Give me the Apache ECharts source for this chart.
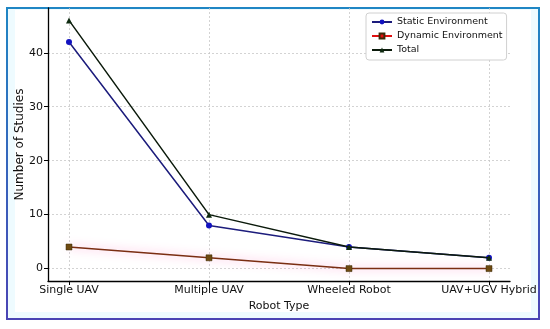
<!DOCTYPE html>
<html>
<head>
<meta charset="utf-8">
<script src="https://cdn.jsdelivr.net/npm/echarts@6/dist/echarts.min.js"></script>
<style>
html,body{margin:0;padding:0;background:#fff;width:550px;height:329px;overflow:hidden;}
#frame{position:absolute;left:6px;top:7px;width:530px;height:309px;border:2px solid;border-image:linear-gradient(#1f86c4,#4a44b4) 1;background:#eefbff;}
#inner{position:absolute;left:15px;top:10px;width:516px;height:302px;background:#fff;}
#chart{position:absolute;left:0;top:0;width:550px;height:329px;}
</style>
</head>
<body>
<div id="frame"></div>
<div id="inner"></div>
<div id="chart"></div>
<script>
const categories = ['Single UAV', 'Multiple UAV', 'Wheeled Robot', 'UAV+UGV Hybrid'];
const staticEnv = [42, 8, 4, 2];
const dynamicEnv = [4, 2, 0, 0];
const totalEnv = [46, 10, 4, 2];
const yTicks = [0, 10, 20, 30, 40];

const toPts = arr => arr.map((v, i) => [i, v]);
const font = 'DejaVu Sans';
const chart = echarts.init(document.getElementById('chart'), null, {renderer: 'canvas'});
chart.setOption({
  backgroundColor: 'transparent',
  animation: false,
  textStyle: {fontFamily: font},
  grid: {left: 48, right: 40, top: 8, bottom: 48, containLabel: false},
  xAxis: {
    type: 'value', min: -0.15, max: 3.15,
    name: 'Robot Type', nameLocation: 'middle', nameGap: 20,
    nameTextStyle: {fontFamily: font, fontSize: 11, color: '#111'},
    axisLine: {show: true, onZero: false, lineStyle: {color: '#000', width: 1.3}},
    axisTick: {show: true, length: 4, customValues: [0, 1, 2, 3], lineStyle: {color: '#000'}},
    axisLabel: {customValues: [0, 1, 2, 3], formatter: v => categories[Math.round(v)], fontFamily: font, fontSize: 11, color: '#111', margin: 4},
    splitLine: {show: true, lineStyle: {color: '#c8c8c8', type: [2, 2], width: 0.8}}
  },
  yAxis: {
    type: 'value', min: -2.3, max: 48.3,
    name: 'Number of Studies', nameLocation: 'middle', nameGap: 22, nameMoveOverlap: false,
    nameTextStyle: {fontFamily: font, fontSize: 12, color: '#111'},
    axisLine: {show: true, onZero: false, lineStyle: {color: '#000', width: 1.3}},
    axisTick: {show: true, length: 4, customValues: yTicks, lineStyle: {color: '#000'}},
    axisLabel: {customValues: yTicks, fontFamily: font, fontSize: 11, color: '#111', margin: 5},
    splitLine: {show: true, lineStyle: {color: '#c8c8c8', type: [2, 2], width: 0.8}}
  },
  legend: {
    orient: 'vertical', left: 366, top: 13, padding: [4, 4, 5, 5], itemGap: 4,
    itemWidth: 20, itemHeight: 6,
    backgroundColor: '#fff', borderColor: '#d0d0d0', borderWidth: 1, borderRadius: 3,
    textStyle: {fontFamily: font, fontSize: 9.5, color: '#111', lineHeight: 10},
    data: [
      {name: 'Static Environment'},
      {name: 'Dynamic Environment', itemStyle: {color: '#e01010'}, lineStyle: {color: '#e01010'}},
      {name: 'Total'}
    ]
  },
  series: [
    {
      name: 'Static Environment', type: 'line', data: toPts(staticEnv),
      symbol: 'circle', symbolSize: 6, z: 3,
      lineStyle: {color: '#1c1c7c', width: 1.5},
      itemStyle: {color: '#1212c0'}
    },
    {
      name: 'Dynamic Environment', type: 'line', data: toPts(dynamicEnv),
      symbol: 'rect', symbolSize: 6, z: 2,
      lineStyle: {color: '#7a2e12', width: 1.5, shadowColor: 'rgba(255,110,185,0.8)', shadowBlur: 10},
      itemStyle: {color: '#6e4a10', borderColor: '#3a2a08', borderWidth: 0.5}
    },
    {
      name: 'Total', type: 'line', data: toPts(totalEnv),
      symbol: 'triangle', symbolSize: 6, z: 4,
      lineStyle: {color: '#0b1a0b', width: 1.5},
      itemStyle: {color: '#0e2a10'}
    }
  ]
});
</script>
</body>
</html>
